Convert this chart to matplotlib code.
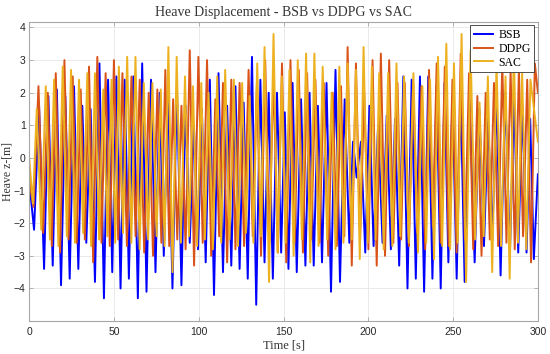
import numpy as np
import matplotlib
matplotlib.use("Agg")
from matplotlib import pyplot as plt

# BSB: trough times / values, peaks sit between consecutive troughs
bsb_trough_t = [2.9, 8.8, 13.9, 18.8, 23.9, 29.0, 33.7, 38.8, 44.1, 49.0,
                53.9, 58.8, 64.1, 69.2, 74.5, 79.4, 84.5, 89.8, 94.7, 99.6,
                104.1, 109.0, 114.3, 119.2, 124.1, 128.9, 133.9, 138.8, 143.7, 148.6,
                152.9, 157.8, 162.9, 167.8, 172.7, 178.0, 183.3, 188.8, 193.1, 198.2,
                203.1, 208.4, 213.3, 218.2, 223.1, 228.0, 232.9, 237.8, 242.7, 247.2,
                252.1, 256.8, 262.7, 268.2, 273.1, 278.0, 283.5, 288.4, 293.3, 297.6]
bsb_trough_v = [-2.2, -3.4, -3.3, -3.9, -3.7, -3.4, -2.6, -3.8, -4.3, -3.5,
                -4.0, -3.7, -4.3, -4.1, -3.5, -3.0, -4.0, -3.9, -2.6, -2.8,
                -3.2, -4.2, -3.5, -3.3, -3.4, -3.7, -4.5, -3.2, -3.7, -2.9,
                -3.4, -3.5, -3.3, -3.3, -3.2, -4.1, -3.8, -2.6, -0.6, -2.9,
                -2.7, -2.6, -2.8, -3.3, -4.0, -3.7, -4.1, -3.7, -4.0, -3.2,
                -3.7, -3.8, -3.2, -2.7, -2.5, -3.6, -2.9, -2.9, -2.9, -3.1]
bsb_peak_v = [1.6, 1.9, 2.1, 1.9, 2.2, 1.6, 1.5, 2.9, 2.4,
              2.5, 2.4, 2.5, 2.9, 2.4, 2.0, 2.0, 2.1, 1.6, 1.0,
              1.5, 2.4, 2.6, 1.6, 2.2, 1.7, 3.1, 2.4, 2.0, 2.0,
              1.4, 2.3, 1.8, 2.0, 1.6, 2.3, 2.7, 1.8, 0.5, 0.5,
              1.6, 1.0, 1.3, 1.2, 2.5, 2.4, 2.5, 2.5, 2.2, 2.3,
              1.9, 2.0, 1.8, 1.5, 1.2, 2.0, 2.0, 1.8, 1.6, 1.2]
bsb_start = [(0.0, -0.7)]
bsb_end = [(300.0, -0.5)]

# DDPG: peak times / values, troughs between consecutive peaks
ddpg_peak_t = [5.5, 11.0, 15.7, 20.8, 25.7, 30.4, 35.3, 40.2, 45.1, 50.0,
               55.0, 60.3, 65.2, 70.5, 75.6, 80.3, 84.9, 89.8, 94.7, 99.8,
               104.9, 109.8, 114.3, 119.2, 124.1, 129.4, 134.3, 139.2, 144.1, 149.1,
               154.1, 159.0, 163.9, 168.8, 173.7, 179.0, 183.9, 187.8, 192.7, 197.6,
               202.5, 207.4, 212.3, 217.2, 221.5, 226.4, 231.3, 235.8, 240.3, 245.1,
               249.6, 254.5, 259.4, 264.3, 269.2, 274.1, 279.0, 283.9, 288.8, 293.7, 298.2]
ddpg_peak_v = [2.2, 2.0, 2.6, 3.0, 2.5, 2.1, 2.8, 3.1, 2.6, 3.0,
               2.6, 2.5, 2.4, 2.0, 2.1, 2.7, 1.8, 1.6, 3.3, 3.1,
               3.0, 1.8, 2.3, 2.4, 2.3, 2.7, 2.3, 3.0, 2.6, 2.9,
               3.0, 2.7, 2.6, 2.4, 2.3, 2.0, 2.2, 3.4, 2.9, 2.0,
               3.0, 3.2, 3.0, 2.3, 2.3, 2.3, 2.2, 2.7, 2.9, 2.8,
               2.4, 3.2, 2.6, 1.9, 2.0, 2.3, 2.9, 2.7, 2.7, 2.4, 2.9]
ddpg_trough_v = [-2.3, -2.7, -2.9, -2.5, -2.6, -2.5, -3.2, -2.6, -2.7, -2.5,
                 -2.7, -2.4, -2.9, -3.0, -2.6, -2.7, -2.5, -2.8, -3.3, -2.6,
                 -3.0, -2.4, -3.2, -2.8, -2.7, -2.4, -3.0, -2.6, -2.9, -3.2,
                 -2.6, -2.9, -2.5, -2.6, -3.0, -2.7, -2.4, -3.3, -2.5, -2.8,
                 -3.3, -3.0, -2.6, -2.5, -2.7, -2.3, -2.8, -2.1, -2.6, -2.7,
                 -2.9, -2.5, -2.8, -3.0, -2.5, -2.7, -2.6, -2.8, -2.4, -3.2]
ddpg_start = [(0.0, -0.7), (2.6, -1.5)]
ddpg_end = [(300.0, 2.0)]

# SAC: peak times / values, troughs between consecutive peaks
sac_peak_t = [4.5, 9.8, 14.7, 19.8, 24.7, 29.4, 34.3, 38.8, 43.7, 48.6,
              52.9, 57.8, 62.7, 67.6, 72.7, 77.6, 82.1, 87.0, 91.9, 96.6,
              101.5, 105.8, 110.9, 115.6, 120.7, 125.6, 130.0, 134.5, 138.8, 144.1,
              149.0, 153.5, 158.4, 163.3, 168.2, 173.1, 178.4, 182.9, 187.8, 192.7,
              197.2, 202.1, 206.4, 211.7, 216.6, 221.1, 226.6, 231.9, 236.4, 241.1,
              246.0, 250.5, 255.0, 260.3, 265.6, 270.5, 275.6, 280.9, 285.8, 290.7, 295.6]
sac_peak_v = [1.5, 2.2, 2.4, 2.8, 2.7, 2.4, 2.6, 2.6, 2.1, 2.4,
              2.8, 3.1, 3.1, 2.3, 2.3, 2.1, 3.4, 3.1, 2.5, 2.2,
              2.3, 2.0, 2.5, 2.7, 2.4, 2.3, 1.9, 2.9, 3.4, 3.8,
              2.5, 2.7, 3.0, 3.2, 3.2, 2.8, 2.0, 2.8, 2.9, 2.7,
              3.4, 2.8, 2.6, 2.6, 2.9, 2.5, 2.6, 2.2, 2.4, 3.1,
              3.5, 2.9, 3.8, 3.3, 1.7, 2.5, 2.9, 2.5, 3.3, 2.6, 2.4]
sac_trough_v = [-2.2, -2.5, -2.7, -2.4, -2.6, -2.3, -2.7, -2.5, -2.4, -2.6,
                -2.3, -2.6, -2.8, -2.5, -2.4, -2.7, -3.5, -2.6, -2.4, -2.7,
                -2.5, -2.8, -2.6, -2.5, -2.7, -2.3, -2.6, -2.4, -3.8, -2.9,
                -2.6, -3.0, -2.5, -3.2, -2.7, -2.5, -2.8, -2.6, -2.5, -3.1,
                -2.6, -2.5, -2.8, -2.7, -2.4, -2.6, -2.9, -2.6, -3.1, -2.7,
                -2.8, -2.6, -3.8, -2.5, -2.4, -3.5, -2.7, -3.7, -2.6, -2.8]
sac_start = [(0.0, 0.0), (2.2, -1.4)]
sac_end = [(300.0, 0.5)]


def zigzag(ext_t, ext_v, between_v, start, end):
    ext_t = np.asarray(ext_t, dtype=float)
    n = len(ext_t)
    t = np.empty(2 * n - 1)
    v = np.empty(2 * n - 1)
    t[0::2] = ext_t
    t[1::2] = (ext_t[:-1] + ext_t[1:]) / 2
    v[0::2] = ext_v
    v[1::2] = between_v[:n - 1]
    st, sv = zip(*start)
    et, ev = zip(*end)
    return np.concatenate([st, t, et]), np.concatenate([sv, v, ev])


plt.rcParams['font.family'] = ['Liberation Serif', 'DejaVu Serif']

fig = plt.figure(figsize=(5.5, 3.54), dpi=100)
ax = fig.add_axes([0.053, 0.093, 0.925, 0.845])

t, v = zigzag(bsb_trough_t, bsb_trough_v, bsb_peak_v, bsb_start, bsb_end)
ax.plot(t, v, color='#0000FF', lw=1.4, label='BSB')
t, v = zigzag(ddpg_peak_t, ddpg_peak_v, ddpg_trough_v, ddpg_start, ddpg_end)
ax.plot(t, v, color='#D95319', lw=1.4, label='DDPG')
t, v = zigzag(sac_peak_t, sac_peak_v, sac_trough_v, sac_start, sac_end)
ax.plot(t, v, color='#EDB120', lw=1.4, label='SAC')

ax.set_xlim(0, 300)
ax.set_ylim(-5, 4.17)
ax.set_xticks(np.arange(0, 301, 50))
ax.set_yticks(np.arange(-4, 5, 1))
ax.grid(True, color='#e6e6e6', lw=0.6)
ax.set_axisbelow(True)
for s in ax.spines.values():
    s.set_color('#a6a6a6')
    s.set_linewidth(0.8)
ax.tick_params(direction='in', length=3, width=0.6, color='#a6a6a6',
               top=True, right=True, labelsize=7.5, labelcolor='#262626')
ax.tick_params(axis='y', pad=2.5)
ax.tick_params(axis='x', pad=4)
for lab in ax.get_xticklabels() + ax.get_yticklabels():
    lab.set_family('Liberation Sans')

ax.set_title('Heave Displacement - BSB vs DDPG vs SAC', fontsize=10, color='#333333', pad=4)
ax.set_xlabel('Time [s]', fontsize=9, color='#333333', labelpad=2)
ax.set_ylabel('Heave z-[m]', fontsize=8.5, color='#333333', labelpad=0.5)

leg = ax.legend(loc='upper right', fontsize=8.5, handlelength=1.6, borderpad=0.3,
                labelspacing=0.15, handletextpad=0.5, fancybox=False, framealpha=1,
                borderaxespad=0.3)
leg.get_frame().set_edgecolor('#333333')
leg.get_frame().set_linewidth(0.6)

fig.savefig('out.png', dpi=100)
